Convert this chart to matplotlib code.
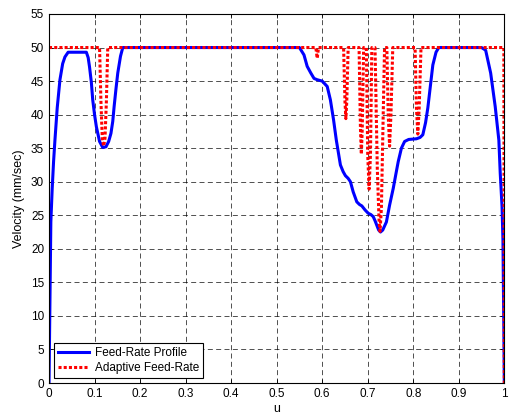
import matplotlib
matplotlib.use("Agg")
import matplotlib.pyplot as plt

plt.rcParams["font.family"] = ["Liberation Sans", "DejaVu Sans"]

# Feed-rate profile (blue)
profile_u = [0.0, 0.002, 0.004, 0.007, 0.010, 0.013, 0.018, 0.024, 0.030, 0.035, 0.042,
             0.082, 0.086, 0.089, 0.093, 0.096, 0.100, 0.104, 0.111, 0.118, 0.125, 0.131,
             0.136, 0.140, 0.143, 0.147, 0.151, 0.157, 0.162,
             0.550, 0.560, 0.567, 0.575, 0.582, 0.589, 0.600, 0.611, 0.618, 0.625, 0.631,
             0.640, 0.646, 0.651, 0.657, 0.662, 0.668, 0.676, 0.682, 0.687, 0.694, 0.701,
             0.707, 0.712, 0.716, 0.720, 0.724, 0.728, 0.733, 0.741, 0.748, 0.756, 0.762,
             0.767, 0.774, 0.781, 0.790, 0.807, 0.815, 0.821, 0.827, 0.832, 0.838, 0.843,
             0.850, 0.856, 0.950, 0.959, 0.970, 0.980, 0.988, 0.991, 0.995, 0.997, 0.998,
             0.999, 1.0]
profile_v = [0.0, 12.0, 24.0, 29.0, 33.0, 36.2, 41.0, 45.2, 47.6, 48.6, 49.3,
             49.3, 48.5, 47.1, 44.8, 42.2, 40.0, 38.2, 36.0, 35.1, 35.2, 36.0,
             37.2, 39.0, 41.2, 43.8, 46.2, 48.7, 50.0,
             50.0, 48.9, 47.2, 46.2, 45.4, 45.2, 45.0, 44.2, 42.2, 39.2, 36.2,
             32.5, 31.5, 30.9, 30.5, 30.0, 28.5, 27.0, 26.6, 26.4, 25.8, 25.3,
             25.1, 24.8, 24.2, 23.5, 22.8, 22.5, 22.8, 24.0, 26.5, 29.0, 31.2,
             33.0, 35.0, 36.0, 36.3, 36.4, 36.6, 37.0, 38.8, 41.0, 44.5, 47.4,
             49.3, 50.0, 50.0, 49.6, 46.2, 41.2, 36.2, 31.3, 26.3, 21.3, 14.4,
             7.9, 0.0]

# Adaptive feed-rate (red dotted)
adaptive_u = [0.0, 0.111, 0.114, 0.117, 0.120, 0.123, 0.126, 0.129,
              0.586, 0.589, 0.592,
              0.647, 0.650, 0.652, 0.654, 0.657,
              0.681, 0.684, 0.686, 0.688, 0.691,
              0.697, 0.700, 0.703, 0.706, 0.709,
              0.716, 0.721, 0.725, 0.727, 0.730, 0.734, 0.737,
              0.742, 0.745, 0.748, 0.751, 0.755,
              0.804, 0.807, 0.810, 0.813, 0.817,
              0.999, 1.0]
adaptive_v = [50.0, 50.0, 42.0, 36.5, 35.3, 36.5, 42.0, 50.0,
              50.0, 48.4, 50.0,
              50.0, 42.0, 39.4, 42.0, 50.0,
              50.0, 38.0, 34.1, 38.0, 50.0,
              50.0, 34.0, 28.9, 34.0, 50.0,
              50.0, 32.0, 24.0, 22.6, 26.0, 40.0, 50.0,
              50.0, 40.0, 35.3, 40.0, 50.0,
              50.0, 41.0, 37.1, 41.0, 50.0,
              50.0, 0.0]

x_ticks = [0, 0.1, 0.2, 0.3, 0.4, 0.5, 0.6, 0.7, 0.8, 0.9, 1]
x_labels = ["0", "0.1", "0.2", "0.3", "0.4", "0.5", "0.6", "0.7", "0.8", "0.9", "1"]
y_ticks = list(range(0, 56, 5))

fig = plt.figure(figsize=(5.09, 4.15), dpi=100)
ax = fig.add_axes([0.0963, 0.0771, 0.8945, 0.8892])

ax.plot(profile_u, profile_v, color=(0, 0, 1), lw=2.2, label="Feed-Rate Profile")
ax.plot(adaptive_u, adaptive_v, color=(1, 0, 0), lw=2.2, linestyle=(0, (1.0, 0.7)),
        dash_capstyle="butt", label="Adaptive Feed-Rate")

ax.set_xlim(0, 1)
ax.set_ylim(0, 55)
ax.set_xticks(x_ticks)
ax.set_xticklabels(x_labels)
ax.set_yticks(y_ticks)
ax.tick_params(direction="in", top=True, right=True, labelsize=8.5, length=3, width=0.6)
ax.grid(True, color="k", linestyle=(0, (6, 4)), linewidth=0.6, alpha=0.8)
for s in ax.spines.values():
    s.set_linewidth(0.8)

ax.set_xlabel("u", fontsize=9, labelpad=2)
ax.set_ylabel("Velocity (mm/sec)", fontsize=9, labelpad=4)

leg = ax.legend(loc="lower left", bbox_to_anchor=(0.011, 0.0136), borderaxespad=0,
                fontsize=8.5, fancybox=False, framealpha=1, edgecolor="k",
                handlelength=2.6, borderpad=0.35, labelspacing=0.25, handletextpad=0.5)
leg.get_frame().set_linewidth(0.8)

fig.savefig("out.png", dpi=100)
